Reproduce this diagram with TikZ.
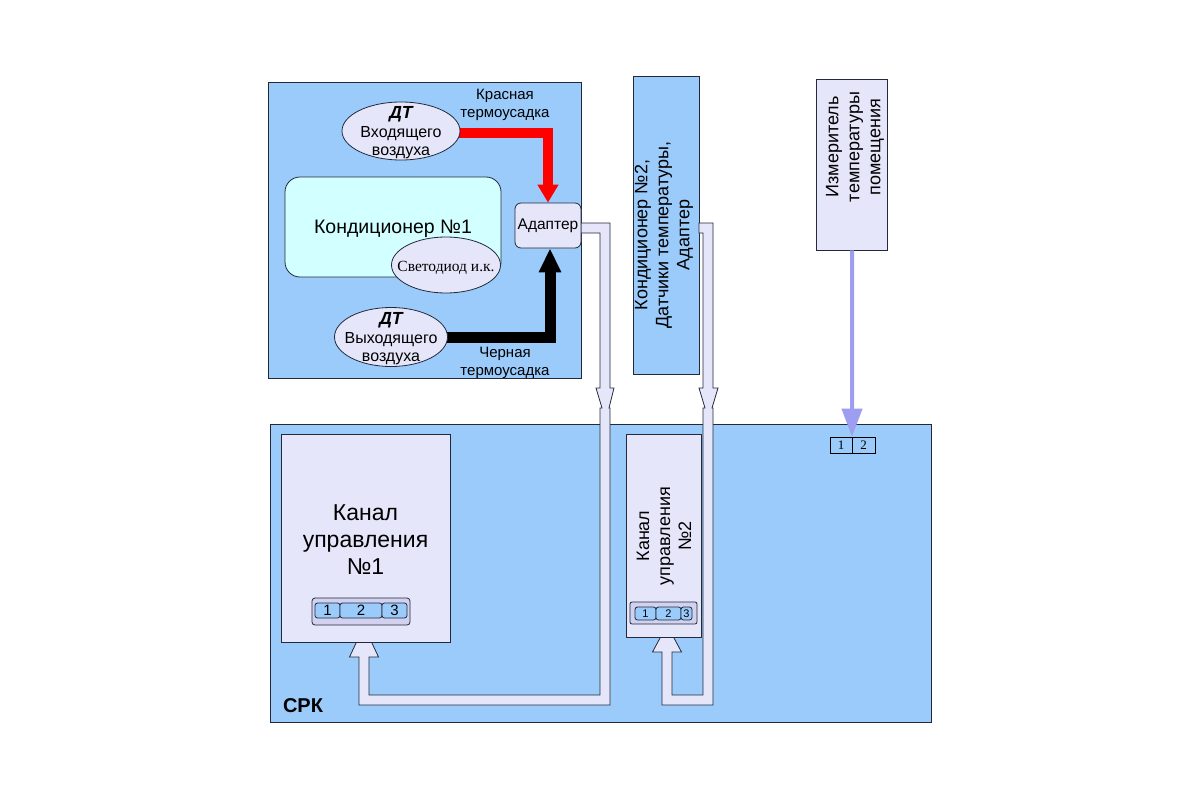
\documentclass[tikz,border=0pt]{standalone}
\usepackage{fontspec}
\setmainfont{Liberation Sans}
\newfontfamily\serifrm{Liberation Serif}
\usetikzlibrary{arrows.meta,shapes.geometric,calc}
\definecolor{lblue}{HTML}{9BCBFB}
\definecolor{lav}{HTML}{E6E6FA}
\definecolor{lavd}{HTML}{D2D2F0}
\definecolor{lcyan}{HTML}{D2FFFF}
\definecolor{bord}{HTML}{222A3A}
\definecolor{izmc}{HTML}{9D9DF2}
\definecolor{redc}{HTML}{FF0000}
\pgfdeclarelayer{back}
\pgfdeclarelayer{mid}
\pgfsetlayers{back,mid,main}
\tikzset{
  bx/.style={draw=bord, line width=0.8pt, inner sep=0pt},
  bluebox/.style={bx, fill=lblue},
  lavbox/.style={bx, fill=lav},
  ell/.style={ellipse, bx, fill=lav},
  txt/.style={align=center, inner sep=0pt},
  f15/.style={font={\fontsize{15}{17.5}\selectfont}},
  f16/.style={font={\fontsize{16}{18.5}\selectfont}},
  f18/.style={font={\fontsize{18}{21}\selectfont}},
  cell/.style={bx, fill=lblue, rounded corners=2.5pt},
  tube/.style={draw=bord, line width=0.8pt, fill=lav, line join=miter},
}
\begin{document}
\begin{tikzpicture}[x=1pt,y=-1pt]
\useasboundingbox (0,0) rectangle (1200,800);

\begin{pgfonlayer}{back}
\fill[white] (0,0) rectangle (1200,800);
\node[bluebox, minimum width=313, minimum height=296] (top) at (424.5,230) {};
\node[bluebox, minimum width=66, minimum height=298] (cond2) at (666,225) {};
\node[lavbox, minimum width=71, minimum height=171] (izm) at (852,164.5) {};
\node[bluebox, minimum width=661, minimum height=298] (srk) at (600.5,573) {};
\end{pgfonlayer}

% conditioner 1 area
\node[bx, fill=lcyan, rounded corners=15pt, minimum width=216, minimum height=100] (cond1) at (393,227) {};
\node[txt, font={\fontsize{19.5}{22}\selectfont}] (cond1t) at (393,229) {Кондиционер №1};
\node[ell, minimum width=109, minimum height=56] (led) at (446,265) {};
\node[txt, font={\serifrm\fontsize{15.5}{18}\selectfont}] (ledt) at (446,268) {Светодиод и.к.};
\node[ell, minimum width=118, minimum height=58] (dtin) at (401,131) {};
\node[txt, f16] (dtint) at (401,133) {{\fontsize{17.5}{18.5}\selectfont\bfseries\itshape ДТ}\\Входящего\\воздуха};
\node[ell, minimum width=113, minimum height=59] (dtout) at (391,337) {};
\node[txt, f16] (dtoutt) at (391,339) {{\fontsize{17.5}{18.5}\selectfont\bfseries\itshape ДТ}\\Выходящего\\воздуха};
\node[lavbox, rounded corners=6pt, minimum width=66, minimum height=45, font={\fontsize{15.5}{18}\selectfont}] (adapter) at (548,225.5) {Адаптер};

\node[txt, f15] (redl) at (505,105) {Красная\\термоусадка};
\node[txt, f15] (blkl) at (505,363) {Черная\\термоусадка};

\begin{pgfonlayer}{mid}
\draw[line width=10pt, redc, -{Triangle[width=20pt,length=18pt]}] ($(dtin.east)+(-4,1.5)$) -| (adapter.north);
\draw[line width=11pt, black, -{Triangle[width=21pt,length=24pt]}] ($(dtout.east)+(-4,0.5)$) -| ($(adapter.south)+(2,0)$);
\end{pgfonlayer}

% conditioner 2 and room meter
\node[txt, f18, rotate=90] (cond2t) at (664,235) {Кондиционер №2,\\Датчики температуры,\\Адаптер};
\node[txt, f18, rotate=90] (izmt) at (855,147) {Измеритель\\температуры\\помещения};

% SRK contents
\node[lavbox, minimum width=169, minimum height=208] (k1) at (365.5,538) {};
\node[txt, font={\fontsize{23}{27}\selectfont}] (k1t) at (365.5,540) {Канал\\управления\\№1};
\node[bx, fill=lavd, rounded corners=3pt, minimum width=98, minimum height=27] (k1c) at (361,611.5) {};
\node[cell, minimum width=25, minimum height=15, f15] (k1c1) at (327.5,610.5) {1};
\node[cell, minimum width=42, minimum height=15, f15] (k1c2) at (361,610.5) {2};
\node[cell, minimum width=25, minimum height=15, f15] (k1c3) at (394.5,610.5) {3};

\node[lavbox, minimum width=75, minimum height=203] (k2) at (663.5,535.5) {};
\node[txt, f18, rotate=90] (k2t) at (664,536) {Канал\\управления\\№2};
\node[bx, fill=lavd, rounded corners=2pt, minimum width=67, minimum height=22] (k2c) at (663.5,613) {};
\node[cell, minimum width=21, minimum height=13, font={\fontsize{11}{13}\selectfont}] (k2c1) at (645.5,613.5) {1};
\node[cell, minimum width=25, minimum height=13, font={\fontsize{11}{13}\selectfont}] (k2c2) at (668.5,613.5) {2};
\node[cell, minimum width=11, minimum height=13, font={\fontsize{11}{13}\selectfont}] (k2c3) at (686.5,613.5) {3};

\node[bx, fill=lblue, line width=0.7pt, draw=black, minimum width=22, minimum height=16, font={\serifrm\fontsize{13}{15}\selectfont}] (p1) at (841,445) {1};
\node[bx, fill=lblue, line width=0.7pt, draw=black, minimum width=23, minimum height=16, font={\serifrm\fontsize{13}{15}\selectfont}] (p2) at (863.5,445) {2};
\coordinate (pj) at ($(p1.north east)!0.5!(p2.north west)$);

\node[txt, font={\bfseries\fontsize{20}{23}\selectfont}] (srkt) at (303,706) {СРК};

\begin{pgfonlayer}{mid}
\draw[izmc, line width=4pt, -{Triangle[width=20pt,length=28pt]}] (izm.south) -- (pj);
% tube from adapter to channel 1
\draw[tube] (581,223) -- (610,223) -- (610,388) -- (614,388) -- (609,408) -- (610,408) -- (610,705)
  -- (359,705) -- (359,657) -- (349.5,657) -- (364,626) -- (378.5,657) -- (369,657) -- (369,695)
  -- (600,695) -- (600,408) -- (602,408) -- (596,388) -- (600,388) -- (600,233) -- (581,233) -- cycle;
% tube from conditioner 2 to channel 2
\draw[tube] (699,223) -- (713,223) -- (713,388) -- (718,388) -- (712,408) -- (713,408) -- (713,705)
  -- (662,705) -- (662,652) -- (652.5,652) -- (667,625) -- (681.5,652) -- (672,652) -- (672,695)
  -- (703,695) -- (703,408) -- (705,408) -- (699,388) -- (703,388) -- (703,233) -- (699,233) -- cycle;
\end{pgfonlayer}
\end{tikzpicture}
\end{document}
